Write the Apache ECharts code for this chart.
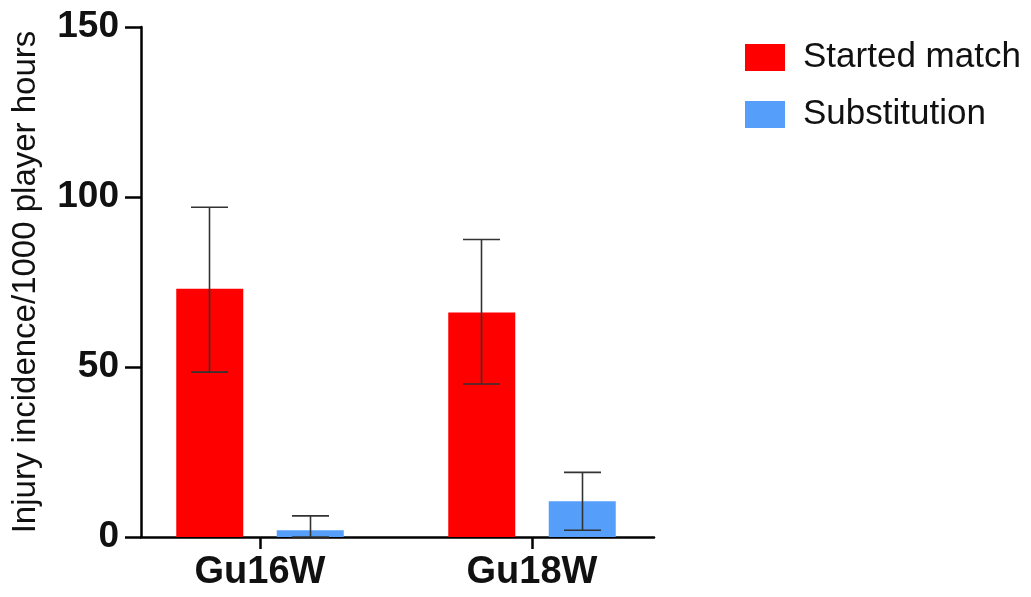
<!DOCTYPE html>
<html>
<head>
<meta charset="utf-8">
<script src="https://cdn.jsdelivr.net/npm/echarts@6/dist/echarts.min.js"></script>
<style>
html,body{margin:0;padding:0;background:#fff;}
#chart{width:1031px;height:597px;}
</style>
</head>
<body>
<div id="chart"></div>
<script>
var categories = ['Gu16W', 'Gu18W'];
var seriesNames = ['Started match', 'Substitution'];
var startedValues = [73, 66];
var startedLower = [48.5, 45];
var startedUpper = [97, 87.5];
var subValues = [2, 10.5];
var subLower = [0, 2];
var subUpper = [6.2, 19];
var yTicks = [0, 50, 100, 150];

var colors = ['#ff0000', '#559ffb'];
var BAR_W = 67, BAR_GAP = 34, CAP_W = 37;

function errorSeries(lower, upper, sign) {
  var data = categories.map(function (c, i) { return [i, lower[i], upper[i]]; });
  return {
    type: 'custom',
    xAxisIndex: 1, yAxisIndex: 1,
    silent: true,
    z: 10,
    data: data,
    encode: { x: 0, y: [1, 2] },
    renderItem: function (params, api) {
      var i = api.value(0);
      var lo = api.coord([i, api.value(1)]);
      var hi = api.coord([i, api.value(2)]);
      var x = lo[0] + sign * (BAR_W / 2 + BAR_GAP / 2);
      var st = { stroke: '#333', lineWidth: 1.6 };
      return {
        type: 'group',
        children: [
          { type: 'line', shape: { x1: x, y1: lo[1], x2: x, y2: hi[1] }, style: st },
          { type: 'line', shape: { x1: x - CAP_W / 2, y1: hi[1], x2: x + CAP_W / 2, y2: hi[1] }, style: st },
          { type: 'line', shape: { x1: x - CAP_W / 2, y1: lo[1], x2: x + CAP_W / 2, y2: lo[1] }, style: st }
        ]
      };
    }
  };
}

var chart = echarts.init(document.getElementById('chart'));
chart.setOption({
  animation: false,
  backgroundColor: '#fff',
  textStyle: { fontFamily: 'Liberation Sans, Arial, sans-serif' },
  legend: {
    orient: 'vertical',
    left: 740, top: 35,
    itemWidth: 40, itemHeight: 27, itemGap: 22,
    icon: 'rect',
    textStyle: { fontSize: 35, color: '#111', padding: [0, 0, 0, 13] },
    data: seriesNames
  },
  grid: [
    { left: 141, top: 27, width: 513, height: 510 },
    { left: 124, top: 27, width: 544, height: 510 }
  ],
  xAxis: [
    {
      gridIndex: 0, type: 'category', data: categories,
      axisLine: { show: true, lineStyle: { color: '#000', width: 2.5 } },
      axisTick: { show: false }, axisLabel: { show: false }
    },
    {
      gridIndex: 1, type: 'category', data: categories,
      axisLine: { show: false },
      axisTick: { show: true, alignWithLabel: true, length: 12, lineStyle: { color: '#000', width: 2.5 } },
      axisLabel: { fontSize: 38, fontWeight: 'bold', color: '#111', margin: 17 }
    }
  ],
  yAxis: [
    {
      gridIndex: 0, type: 'value', min: 0, max: 150, interval: 50,
      name: 'Injury incidence/1000 player hours',
      nameLocation: 'middle', nameRotate: 90, nameGap: 99,
      nameTextStyle: { fontSize: 33, color: '#111' },
      axisLine: { show: true, lineStyle: { color: '#000', width: 2.5 } },
      axisTick: { show: true, length: 16, lineStyle: { color: '#000', width: 2.5 } },
      axisLabel: { fontSize: 37, fontWeight: 'bold', color: '#111', margin: 22,
        formatter: function (v) { return yTicks.indexOf(v) >= 0 ? String(v) : ''; } },
      splitLine: { show: false }
    },
    {
      gridIndex: 1, type: 'value', min: 0, max: 150, interval: 50,
      show: false, splitLine: { show: false }
    }
  ],
  series: [
    {
      name: seriesNames[0], type: 'bar', xAxisIndex: 1, yAxisIndex: 1,
      data: startedValues, barWidth: BAR_W, barGap: '50%',
      itemStyle: { color: colors[0] }
    },
    {
      name: seriesNames[1], type: 'bar', xAxisIndex: 1, yAxisIndex: 1,
      data: subValues, barWidth: BAR_W, barGap: '50%',
      itemStyle: { color: colors[1] }
    },
    errorSeries(startedLower, startedUpper, -1),
    errorSeries(subLower, subUpper, 1)
  ]
});
</script>
</body>
</html>
